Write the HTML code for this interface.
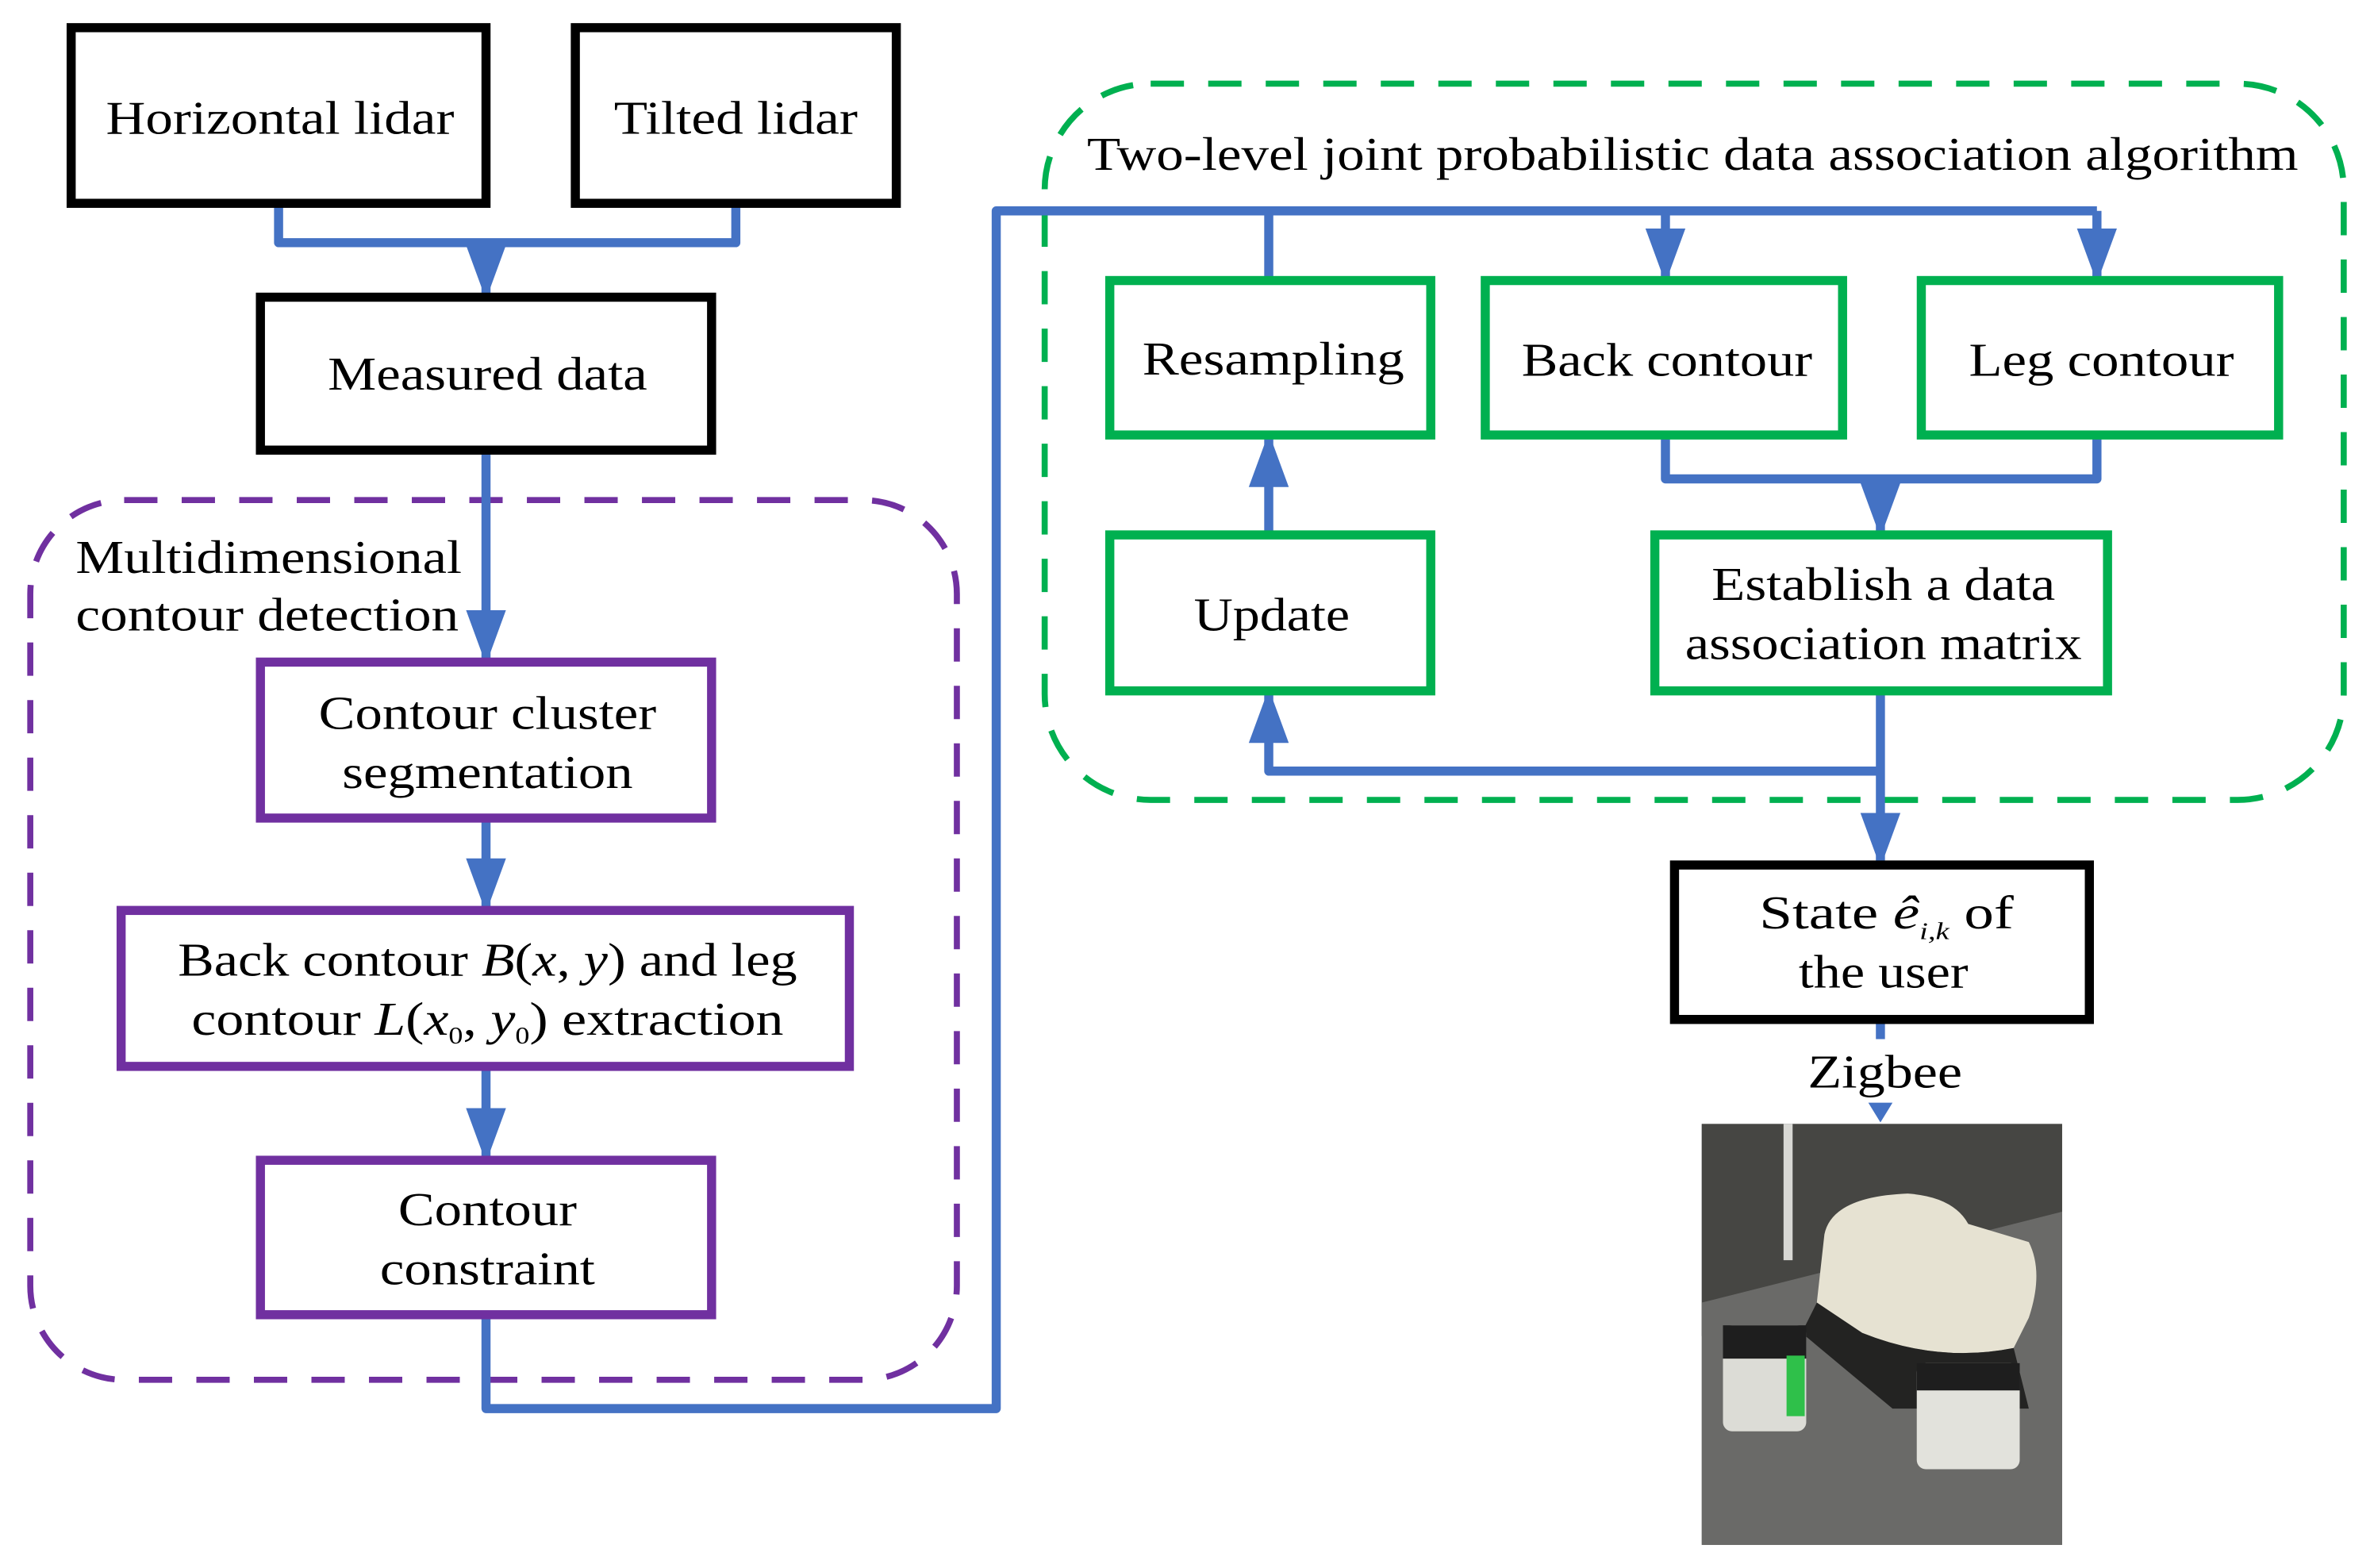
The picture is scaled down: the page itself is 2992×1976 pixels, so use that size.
<!DOCTYPE html>
<html><head><meta charset="utf-8"><style>html,body{margin:0;padding:0;background:#fff}svg{display:block}svg text{font-family:"Liberation Serif","Times New Roman",serif}</style></head>
<body>
<svg width="2992" height="1976" viewBox="0 0 1568 1035" xmlns="http://www.w3.org/2000/svg" font-size="31" text-anchor="middle">
<defs>
<marker id="a" markerWidth="6" markerHeight="6" refX="5.4" refY="3" orient="auto" markerUnits="strokeWidth"><path d="M0,0.8 L6,3 L0,5.2 z" fill="#4472C4"/></marker>
</defs>
<rect width="1568" height="1035" fill="#fff"/>
<rect x="20" y="330" width="612" height="581" rx="62" fill="none" stroke="#7030A0" stroke-width="4" stroke-dasharray="22 16"/>
<rect x="690" y="55" width="858" height="473" rx="70" fill="none" stroke="#00B050" stroke-width="4" stroke-dasharray="22 16"/>
<g fill="none" stroke="#4472C4" stroke-width="6" stroke-linejoin="round">
<path d="M184,134 V160 H486 V134"/>
<path d="M321,160 V194" marker-end="url(#a)"/>
<path d="M321,297 V435" marker-end="url(#a)"/>
<path d="M321,540 V599" marker-end="url(#a)"/>
<path d="M321,704 V764" marker-end="url(#a)"/>
<path d="M321,868 V930 H658 V139 H1385"/>
<path d="M838,139 V185"/>
<path d="M1100,139 V183" marker-end="url(#a)"/>
<path d="M1385,139 V183" marker-end="url(#a)"/>
<path d="M1100,287 V316 H1385 V287"/>
<path d="M1242,316 V351" marker-end="url(#a)"/>
<path d="M838,353 V289" marker-end="url(#a)"/>
<path d="M1242,456 V569" marker-end="url(#a)"/>
<path d="M1242,509 H838 V458" marker-end="url(#a)"/>
<path d="M1242,673 V686"/>
</g>
<path d="M1234,728 L1250,728 L1242,741 z" fill="#4472C4"/>
<g fill="#fff" stroke="#000" stroke-width="6">
<rect x="47" y="18" width="274" height="116"/>
<rect x="380" y="18" width="212" height="116"/>
<rect x="172" y="196" width="298" height="101"/>
<rect x="1106" y="571" width="274" height="102"/>
</g>
<g fill="#fff" stroke="#7030A0" stroke-width="6">
<rect x="172" y="437" width="298" height="103"/>
<rect x="80" y="601" width="481" height="103"/>
<rect x="172" y="766" width="298" height="102"/>
</g>
<g fill="#fff" stroke="#00B050" stroke-width="6">
<rect x="733" y="185" width="212" height="102"/>
<rect x="981" y="185" width="236" height="102"/>
<rect x="1269" y="185" width="236" height="102"/>
<rect x="733" y="353" width="212" height="103"/>
<rect x="1093" y="353" width="299" height="103"/>
</g>
<g fill="#000">
<text x="185" y="88" textLength="230" lengthAdjust="spacingAndGlyphs">Horizontal lidar</text>
<text x="486" y="88" textLength="161" lengthAdjust="spacingAndGlyphs">Tilted lidar</text>
<text x="322" y="257" textLength="211" lengthAdjust="spacingAndGlyphs">Measured data</text>
<text x="50" y="378" text-anchor="start" textLength="255" lengthAdjust="spacingAndGlyphs">Multidimensional</text>
<text x="50" y="416" text-anchor="start" textLength="253" lengthAdjust="spacingAndGlyphs">contour detection</text>
<text x="322" y="481" textLength="223" lengthAdjust="spacingAndGlyphs">Contour cluster</text>
<text x="322" y="520" textLength="192" lengthAdjust="spacingAndGlyphs">segmentation</text>
<text x="322" y="644" textLength="409" lengthAdjust="spacingAndGlyphs">Back contour <tspan font-style="italic">B</tspan>(<tspan font-style="italic">x</tspan>, <tspan font-style="italic">y</tspan>) and leg</text>
<text x="322" y="683" textLength="391" lengthAdjust="spacingAndGlyphs">contour <tspan font-style="italic">L</tspan>(<tspan font-style="italic">x</tspan><tspan font-size="16" dy="6">0</tspan><tspan dy="-6">, </tspan><tspan font-style="italic">y</tspan><tspan font-size="16" dy="6">0</tspan><tspan dy="-6">) extraction</tspan></text>
<text x="322" y="809" textLength="118" lengthAdjust="spacingAndGlyphs">Contour</text>
<text x="322" y="848" textLength="142" lengthAdjust="spacingAndGlyphs">constraint</text>
<text x="1118" y="112" textLength="800" lengthAdjust="spacingAndGlyphs">Two-level joint probabilistic data association algorithm</text>
<text x="841" y="247" textLength="173" lengthAdjust="spacingAndGlyphs">Resampling</text>
<text x="1101" y="248" textLength="192" lengthAdjust="spacingAndGlyphs">Back contour</text>
<text x="1388" y="248" textLength="175" lengthAdjust="spacingAndGlyphs">Leg contour</text>
<text x="840" y="416" textLength="103" lengthAdjust="spacingAndGlyphs">Update</text>
<text x="1244" y="396" textLength="227" lengthAdjust="spacingAndGlyphs">Establish a data</text>
<text x="1244" y="435" textLength="262" lengthAdjust="spacingAndGlyphs">association matrix</text>
<text x="1246" y="613" textLength="168" lengthAdjust="spacingAndGlyphs">State <tspan font-style="italic">ê</tspan><tspan font-style="italic" font-size="16" dy="7">i,k</tspan><tspan dy="-7">  of</tspan></text>
<text x="1244" y="652" textLength="112" lengthAdjust="spacingAndGlyphs">the user</text>
<text x="1245" y="718" textLength="102" lengthAdjust="spacingAndGlyphs">Zigbee</text>
</g>
<g>
<rect x="1124" y="742" width="238" height="278" fill="#5a5a57"/>
<rect x="1124" y="742" width="238" height="140" fill="#464643"/>
<polygon points="1124,860 1362,800 1362,1020 1124,1020" fill="#6a6a68"/>
<rect x="1178" y="742" width="6" height="90" fill="#d8d8d4"/>
<path d="M1205,815 Q1210,790 1260,788 Q1290,790 1300,808 L1340,820 Q1350,840 1340,870 L1330,890 Q1280,900 1230,880 L1200,860 Z" fill="#e6e2d2"/>
<path d="M1200,860 L1230,880 Q1280,900 1330,890 L1340,930 L1250,930 L1190,880 Z" fill="#232322"/>
<rect x="1138" y="875" width="55" height="70" rx="6" fill="#dcdcd6"/>
<rect x="1138" y="875" width="55" height="22" fill="#1e1e1e"/>
<rect x="1180" y="895" width="12" height="40" fill="#2fc04a"/>
<rect x="1266" y="900" width="68" height="70" rx="6" fill="#e2e2dc"/>
<rect x="1266" y="900" width="68" height="18" fill="#1e1e1e"/>
</g>
</svg>
</body></html>
